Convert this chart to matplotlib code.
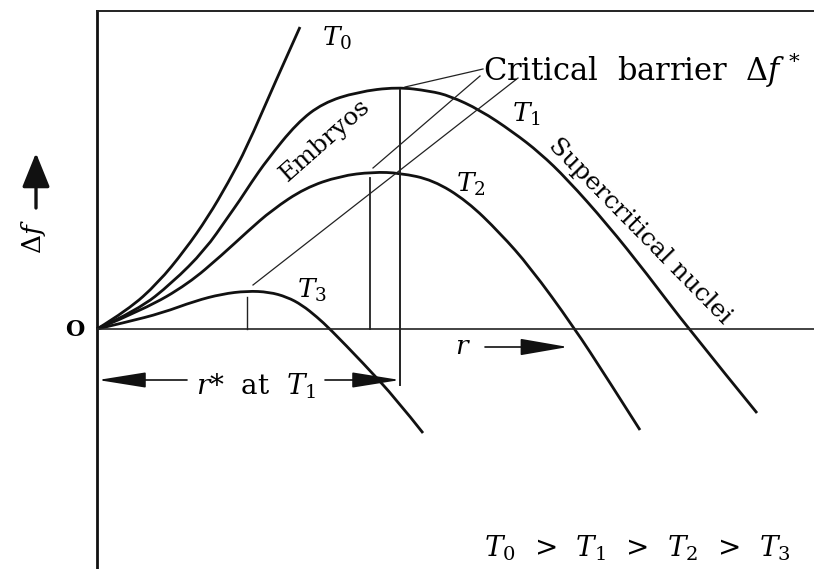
import numpy as np
import matplotlib
matplotlib.use("Agg")
import matplotlib.pyplot as plt
from matplotlib.path import Path
from matplotlib.patches import PathPatch

plt.rcParams["font.family"] = ["DejaVu Serif"]
plt.rcParams["mathtext.fontset"] = "dejavuserif"

# free-energy curves, (r, delta f) traced along each temperature
t0_r = [0, 31, 61, 88, 111, 131, 150, 176, 203]
t0_f = [0, 19, 46, 79, 112, 146, 182, 242, 302]

t1_r = [0, 41, 75, 108, 131, 143, 154, 170, 200, 226, 260, 300, 333, 353, 383,
        416, 443, 470, 510, 550, 590, 660]
t1_f = [0, 19, 46, 79, 112, 129, 146, 169, 206, 226, 237, 242, 238, 233, 219,
        197, 176, 150, 105, 55, 2, -84]

t2_r = [0, 48, 91, 125, 151, 175, 208, 243, 276, 303, 336, 370, 403, 433, 476,
        510, 543]
t2_f = [0, 20, 45, 74, 98, 119, 141, 153, 157, 156, 149, 128, 96, 62, 3,
        -49, -101]

t3_r = [0, 30, 65, 98, 125, 150, 172, 190, 205, 220, 233, 266, 300, 326]
t3_f = [0, 7, 16, 28, 35, 38, 37, 32, 24, 12, 0, -34, -71, -104]

# critical radii (vertical drops) and barrier heights
rstar = [150, 273, 303]
fstar = [32, 151, 239]
rstar_T1_dim = -56          # T1 drop runs down to the dimension line

# leader lines from the "Critical barrier" label
lead_from = [(386, 260), (383, 253), (421, 251)]
lead_to = [(308, 242), (276, 161), (156, 44)]


def smooth(ax, xs, ys, lw=2.0):
    pts = np.column_stack([xs, ys]).astype(float)
    verts = [pts[0]]
    codes = [Path.MOVETO]
    for i in range(1, len(pts) - 1):
        end = pts[i + 1] if i == len(pts) - 2 else (pts[i] + pts[i + 1]) / 2
        verts += [pts[i], end]
        codes += [Path.CURVE3, Path.CURVE3]
    ax.add_patch(PathPatch(Path(verts, codes), fill=False, lw=lw,
                           edgecolor="#111111", capstyle="butt"))


def arrow(ax, tail, tip, lw=1.2, hl=3.0, hw=0.48):
    ax.annotate("", xy=tip, xytext=tail,
                arrowprops=dict(arrowstyle=f"-|>,head_length={hl},head_width={hw}",
                                mutation_scale=10, lw=lw, color="#111111",
                                shrinkA=0, shrinkB=0))


fig = plt.figure(figsize=(8.14, 5.69), dpi=100)
ax = fig.add_axes([0, 0, 1, 1])
ax.set_xlim(-97, 717)
ax.set_ylim(-240, 329)
ax.axis("off")

# frame: ordinate, top rule, abscissa
ax.plot([0, 0], [-240, 318], color="#111111", lw=2.0)
ax.plot([0, 717], [318, 318], color="#222222", lw=1.4)
ax.plot([0, 717], [0, 0], color="#222222", lw=1.2)

for xs, ys in ((t0_r, t0_f), (t1_r, t1_f), (t2_r, t2_f), (t3_r, t3_f)):
    smooth(ax, xs, ys)

ax.plot([rstar[0], rstar[0]], [0, fstar[0]], color="#222222", lw=1.0)
ax.plot([rstar[1], rstar[1]], [0, fstar[1]], color="#222222", lw=1.3)
ax.plot([rstar[2], rstar[2]], [rstar_T1_dim, fstar[2]], color="#222222", lw=1.4)

for (x0, y0), (x1, y1) in zip(lead_from, lead_to):
    ax.plot([x0, x1], [y0, y1], color="#222222", lw=0.9)

fs = 19
ax.text(-22, -1, "O", fontsize=16, fontweight="bold", ha="center", va="center")
ax.text(-64, 92, r"$\mathit{\Delta} f$", fontsize=fs, rotation=90,
        ha="center", va="center")
arrow(ax, (-61, 121), (-61, 176), lw=2.4, hl=2.1, hw=0.85)

ax.text(240, 291, r"$T_0$", fontsize=fs, ha="center", va="center")
ax.text(429, 215, r"$T_1$", fontsize=fs, ha="center", va="center")
ax.text(374, 145, r"$T_2$", fontsize=fs, ha="center", va="center")
ax.text(215, 39, r"$T_3$", fontsize=fs, ha="center", va="center")

ax.text(386, 259, r"Critical  barrier  $\mathit{\Delta} f\,^*$", fontsize=22,
        ha="left", va="center")
ax.text(228, 189, "Embryos", fontsize=18, rotation=41.5,
        ha="center", va="center", rotation_mode="anchor")
ax.text(543, 98, "Supercritical nuclei", fontsize=18, rotation=-45.5,
        ha="center", va="center", rotation_mode="anchor")

# r* dimension line at T1
ax.text(159, -57, r"$r$*  at  $T_1$", fontsize=20, ha="center", va="center")
arrow(ax, (90, -51), (1, -51))
arrow(ax, (228, -51), (303, -51))

ax.text(366, -18, r"$r$", fontsize=fs, ha="center", va="center")
arrow(ax, (388, -18), (471, -18), hw=0.52)

ax.text(540, -219, r"$T_0\ \,>\ \,T_1\ \,>\ \,T_2\ \,>\ \,T_3$", fontsize=20,
        ha="center", va="center")

fig.savefig("out.png", dpi=100)
